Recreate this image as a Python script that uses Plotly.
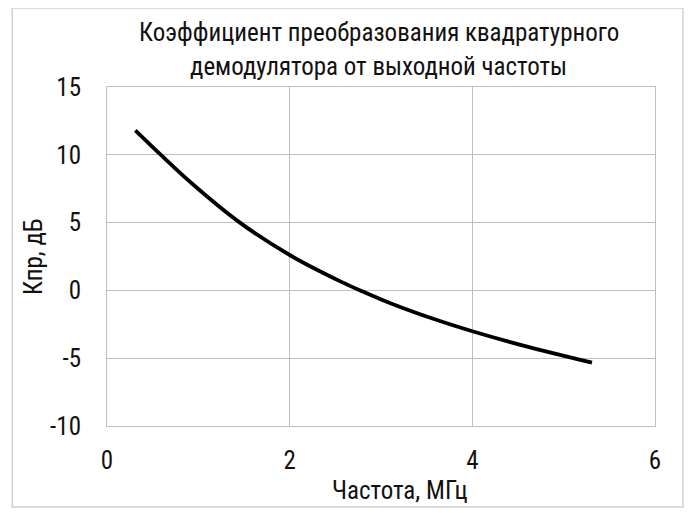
import plotly.graph_objects as go

freq_mhz = [0.31, 0.59, 0.93, 1.44, 2.0, 2.56, 2.80, 3.11, 3.58, 4.0, 4.57, 5.31]
gain_db = [11.8, 9.99, 7.88, 5.07, 2.61, 0.65, -0.08, -0.96, -2.11, -3.01, -4.09, -5.33]

y_tickvals = [-10, -5, 0, 5, 10, 15]
y_ticktext = ["-10", "-5", "0", "5", "10", "15"]
x_tickvals = [0, 2, 4, 6]
x_ticktext = ["0", "2", "4", "6"]

title_line1 = "Коэффициент преобразования квадратурного"
title_line2 = "демодулятора от выходной частоты"
x_title = "Частота, МГц"
y_title = "Кпр, дБ"

FONT = "Liberation Sans Narrow, Arial Narrow, Roboto Condensed, sans-serif"
TXT = "#111111"
GRID = "#bfbfbf"
FS = 25

fig = go.Figure()
fig.add_trace(go.Scatter(
    x=freq_mhz, y=gain_db, mode="lines",
    line=dict(color="black", width=3.8, shape="spline", smoothing=1.0),
    showlegend=False,
))

fig.update_layout(
    width=684, height=505,
    margin=dict(l=99, r=37, t=79, b=87),
    paper_bgcolor="white", plot_bgcolor="white",
    font=dict(family=FONT, color=TXT, size=FS),
    xaxis=dict(range=[0, 6], tickvals=x_tickvals, ticktext=x_ticktext,
               showgrid=True, gridcolor=GRID, gridwidth=1,
               showline=True, linecolor=GRID, mirror=True, zeroline=False,
               ticks="", ticklabelstandoff=12,
               tickfont=dict(size=FS, family=FONT, color=TXT)),
    yaxis=dict(range=[-10, 15], tickvals=y_tickvals, ticktext=y_ticktext,
               showgrid=True, gridcolor=GRID, gridwidth=1,
               showline=True, linecolor=GRID, mirror=True, zeroline=False,
               ticks="", ticklabelstandoff=20,
               tickfont=dict(size=FS, family=FONT, color=TXT)),
    shapes=[dict(type="rect", xref="paper", yref="paper",
                 x0=-0.173, x1=1.051, y0=-0.239, y1=1.233,
                 line=dict(color="#d0d0d0", width=1.5), layer="below")],
    annotations=[
        dict(text=title_line1, xref="paper", yref="paper", x=0.496, y=1.161,
             xanchor="center", yanchor="middle", showarrow=False,
             font=dict(size=FS, family=FONT, color=TXT)),
        dict(text=title_line2, xref="paper", yref="paper", x=0.496, y=1.059,
             xanchor="center", yanchor="middle", showarrow=False,
             font=dict(size=FS, family=FONT, color=TXT)),
        dict(text=x_title, xref="paper", yref="paper", x=0.535, y=-0.189,
             xanchor="center", yanchor="middle", showarrow=False,
             font=dict(size=FS, family=FONT, color=TXT)),
        dict(text=y_title, xref="paper", yref="paper", x=-0.135, y=0.4985,
             xanchor="center", yanchor="middle", showarrow=False, textangle=-90,
             font=dict(size=FS, family=FONT, color=TXT)),
    ],
)

fig.write_html("out.html")
